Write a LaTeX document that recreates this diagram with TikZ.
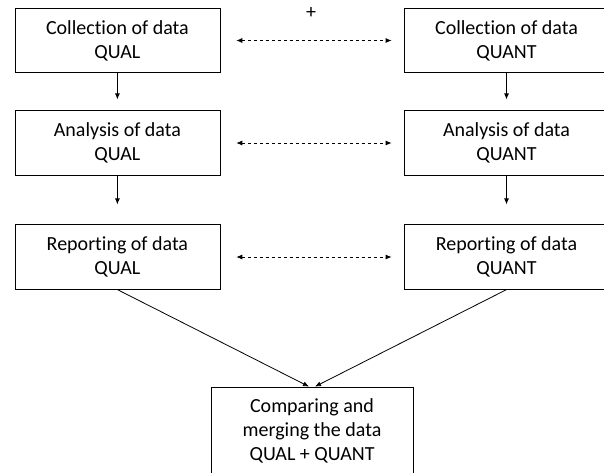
\documentclass[tikz,border=0pt]{standalone}
\usepackage{fontspec}
\setmainfont[Ligatures={NoCommon}]{Carlito}
\usetikzlibrary{arrows.meta}
\begin{document}
\begin{tikzpicture}[x=1pt,y=-1pt,
  box/.style={draw, line width=0.8pt, minimum width=205pt, minimum height=64.4pt, align=center, font=\fontsize{20}{24}\selectfont, inner sep=0pt},
  flow/.style={line width=0.8pt, -{Latex[length=6pt,width=5pt]}},
  link/.style={line width=0.8pt, dash pattern=on 3.5pt off 2.5pt, {Latex[length=6pt,width=5pt]}-{Latex[length=6pt,width=5pt]}}]
\useasboundingbox (0,0) rectangle (604,472);
\clip (0,0) rectangle (604,472);
\node[box] (q1) at (117.4,40.5) {Collection of data\\QUAL};
\node[box] (n1) at (506.5,40.5) {Collection of data\\QUANT};
\node[box] (q2) at (117.4,143) {Analysis of data\\QUAL};
\node[box] (n2) at (506.5,143) {Analysis of data\\QUANT};
\node[box] (q3) at (117.4,257) {Reporting of data\\QUAL};
\node[box] (n3) at (506.5,257) {Reporting of data\\QUANT};
\node[box, minimum width=202pt, minimum height=87pt] (m) at (312,430.5) {Comparing and\\merging the data\\QUAL + QUANT};
\node[font=\fontsize{20}{22}\selectfont, inner sep=0pt] (plus) at (311,13) {+};
\draw[flow, shorten >=11pt] (q1) -- (q2);
\draw[flow, shorten >=11pt] (n1) -- (n2);
\draw[flow, shorten >=20pt] (q2) -- (q3);
\draw[flow, shorten >=20pt] (n2) -- (n3);
\draw[link, shorten <=16pt, shorten >=12pt] (q1.east) -- (n1.west);
\draw[link, shorten <=16pt, shorten >=12pt] (q2.east) -- (n2.west);
\draw[link, shorten <=16pt, shorten >=12pt] (q3.east) -- (n3.west);
\draw[flow] (q3.south) -- ([xshift=-3pt]m.north);
\draw[flow] (n3.south) -- ([xshift=3pt]m.north);
\end{tikzpicture}
\end{document}
